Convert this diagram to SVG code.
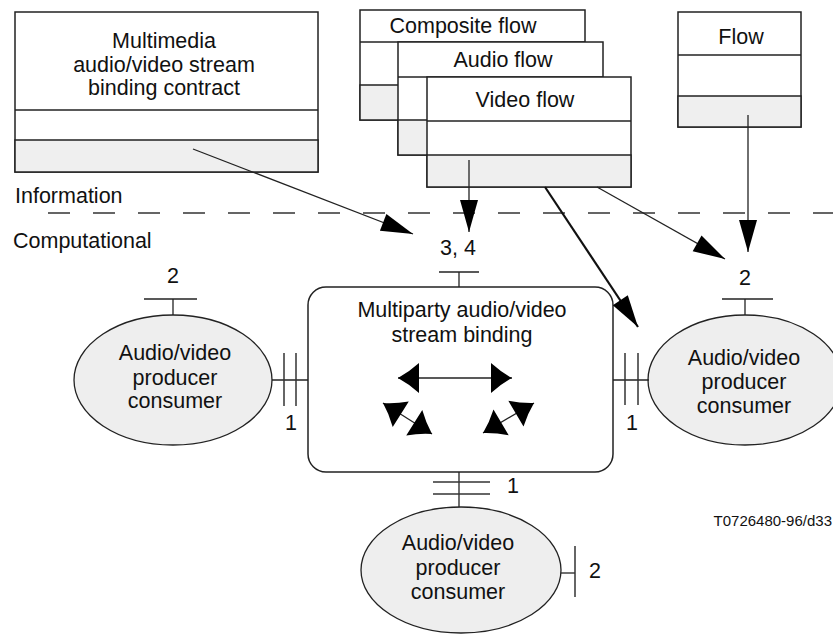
<svg xmlns="http://www.w3.org/2000/svg" width="833" height="638" viewBox="0 0 833 638">
<style>
text{font-family:"Liberation Sans",Arial,sans-serif;font-size:21.5px;fill:#111}
.c{text-anchor:middle}
.box{fill:#fff;stroke:#222;stroke-width:1.5}
.gray{fill:#efefef;stroke:#222;stroke-width:1.5}
.ln{fill:none;stroke:#222;stroke-width:1.3}
.ell{fill:#eeeeee;stroke:#222;stroke-width:1.3}
.tick{fill:none;stroke:#333;stroke-width:1.5}
</style>
<defs>
<marker id="ah" markerUnits="userSpaceOnUse" orient="auto" refX="0" refY="0" markerWidth="40" markerHeight="40" overflow="visible">
<path d="M0,0 L-32,-9 L-32,9 Z" fill="#000"/>
</marker>
<marker id="barb" markerUnits="userSpaceOnUse" orient="auto-start-reverse" refX="0" refY="0" markerWidth="40" markerHeight="40" overflow="visible">
<path d="M0,0 Q-11,-6 -21,-15 L-21,15 Q-11,6 0,0 Z" fill="#000"/>
</marker>
</defs>

<g id="contract">
<rect class="box" x="15" y="12" width="303" height="160"/>
<rect class="gray" x="15" y="140" width="303" height="32"/>
<line class="ln" x1="15" y1="110" x2="318" y2="110"/>
<text class="c" x="164" y="48">Multimedia</text>
<text class="c" x="164" y="72">audio/video stream</text>
<text class="c" x="164" y="95">binding contract</text>
</g>

<g id="composite-flow">
<rect class="box" x="360" y="10" width="225" height="110"/>
<rect class="gray" x="360" y="85" width="225" height="35"/>
<line class="ln" x1="360" y1="42" x2="585" y2="42"/>
<text class="c" x="463" y="33">Composite flow</text>
</g>

<g id="audio-flow">
<rect class="box" x="398" y="42" width="205" height="113"/>
<rect class="gray" x="398" y="120" width="205" height="35"/>
<line class="ln" x1="398" y1="77" x2="603" y2="77"/>
<text class="c" x="503" y="67">Audio flow</text>
</g>

<g id="video-flow">
<rect class="box" x="427" y="77" width="204" height="110"/>
<rect class="gray" x="427" y="155" width="204" height="32"/>
<line class="ln" x1="427" y1="121" x2="631" y2="121"/>
<text class="c" x="525" y="107">Video flow</text>
</g>

<g id="flow">
<rect class="box" x="678" y="12" width="123" height="115"/>
<rect class="gray" x="678" y="96" width="123" height="31"/>
<line class="ln" x1="678" y1="55" x2="801" y2="55"/>
<text class="c" x="741" y="44">Flow</text>
</g>

<g id="layers">
<line x1="48" y1="213" x2="833" y2="213" stroke="#333" stroke-width="1.3" stroke-dasharray="22 23"/>
<text x="15" y="203">Information</text>
<text x="13" y="248">Computational</text>
</g>

<g id="binding">
<rect class="box" x="308" y="287" width="305" height="185" rx="18" ry="18"/>
<text class="c" x="462" y="317">Multiparty audio/video</text>
<text class="c" x="462" y="342">stream binding</text>
<line class="ln" x1="398" y1="378" x2="512" y2="378" marker-start="url(#barb)" marker-end="url(#barb)"/>
<line class="ln" x1="383" y1="403" x2="432" y2="434" marker-start="url(#barb)" marker-end="url(#barb)"/>
<line class="ln" x1="483" y1="433" x2="534" y2="403" marker-start="url(#barb)" marker-end="url(#barb)"/>
</g>

<g id="avpc-left">
<ellipse class="ell" cx="173" cy="380" rx="99" ry="65"/>
<text class="c" x="175" y="360">Audio/video</text>
<text class="c" x="175" y="385">producer</text>
<text class="c" x="175" y="408">consumer</text>
</g>

<g id="avpc-right">
<ellipse class="ell" cx="745" cy="380" rx="97" ry="65"/>
<text class="c" x="744" y="365">Audio/video</text>
<text class="c" x="744" y="389">producer</text>
<text class="c" x="744" y="413">consumer</text>
</g>

<g id="avpc-bottom">
<ellipse class="ell" cx="461" cy="570" rx="100" ry="63"/>
<text class="c" x="458" y="550">Audio/video</text>
<text class="c" x="458" y="575">producer</text>
<text class="c" x="458" y="599">consumer</text>
</g>

<g id="connectors">
<line class="ln" x1="459" y1="272" x2="459" y2="287"/>
<line class="ln" x1="439" y1="272" x2="479" y2="272"/>
<text class="c" x="458" y="255">3, 4</text>

<line class="ln" x1="173" y1="299" x2="173" y2="315"/>
<line class="ln" x1="144" y1="299" x2="197" y2="299"/>
<text class="c" x="173" y="283">2</text>

<line class="ln" x1="745" y1="299" x2="745" y2="315"/>
<line class="ln" x1="722" y1="299" x2="773" y2="299"/>
<text class="c" x="745" y="285">2</text>

<line class="ln" x1="272" y1="380" x2="308" y2="380"/>
<line class="tick" x1="284" y1="353" x2="284" y2="406"/>
<line class="tick" x1="296" y1="353" x2="296" y2="406"/>
<text class="c" x="291" y="430">1</text>

<line class="ln" x1="613" y1="380" x2="649" y2="380"/>
<line class="tick" x1="625" y1="353" x2="625" y2="405"/>
<line class="tick" x1="638" y1="353" x2="638" y2="405"/>
<text class="c" x="632" y="430">1</text>

<line class="ln" x1="459" y1="472" x2="459" y2="507"/>
<line class="tick" x1="433" y1="482" x2="490" y2="482"/>
<line class="tick" x1="433" y1="494" x2="490" y2="494"/>
<text class="c" x="513" y="493">1</text>

<line class="ln" x1="561" y1="573" x2="575" y2="573"/>
<line class="tick" x1="575" y1="546" x2="575" y2="597"/>
<text class="c" x="595" y="578">2</text>

<line class="ln" x1="193" y1="149" x2="413" y2="234" marker-end="url(#ah)"/>
<line class="ln" x1="469" y1="160" x2="469" y2="232" marker-end="url(#ah)"/>
<line x1="545" y1="187" x2="638" y2="327" stroke="#111" stroke-width="2.2" marker-end="url(#ah)"/>
<line class="ln" x1="597" y1="187" x2="725" y2="259" marker-end="url(#ah)"/>
<line class="ln" x1="748" y1="115" x2="748" y2="252" marker-end="url(#ah)"/>
</g>

<text x="832" y="526" style="font-size:15px;text-anchor:end">T0726480-96/d33</text>
</svg>
